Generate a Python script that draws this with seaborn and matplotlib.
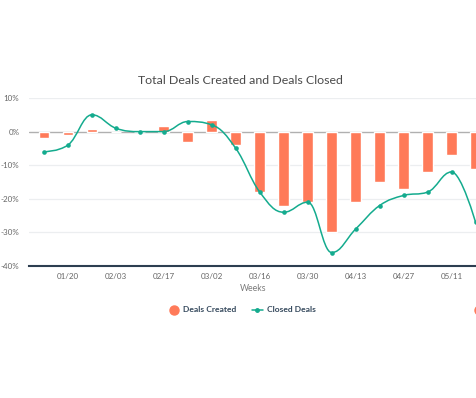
import numpy as np
import pandas as pd
import matplotlib
matplotlib.use("Agg")
import matplotlib.pyplot as plt
from matplotlib.path import Path
from matplotlib.patches import PathPatch
from matplotlib.lines import Line2D
import seaborn as sns

weeks = ["01/13", "01/20", "01/27", "02/03", "02/10", "02/17", "02/24", "03/02",
         "03/09", "03/16", "03/23", "03/30", "04/06", "04/13", "04/20", "04/27",
         "05/04", "05/11", "05/18"]
deals_created = [-2, -1, 0.7, 0, 0, 1.7, -3, 3.5, -4, -18, -22, -21, -30, -21,
                 -15, -17, -12, -7, -11]
closed_deals = [-6, -4, 5, 1, 0, 0, 3, 2, -5, -18, -24, -21, -36, -29, -22,
                -19, -18, -12, -27]
yticks = [10, 0, -10, -20, -30, -40]
ytick_labels = ["10%", "0%", "-10%", "-20%", "-30%", "-40%"]
shown_weeks = ["01/20", "02/03", "02/17", "03/02", "03/16", "03/30", "04/13", "04/27", "05/11"]

ORANGE = "#ff7a59"
TEAL = "#14ab8e"
DARK = "#33475b"

sns.set_theme(style="white")
plt.rcParams["font.family"] = ["Lato", "DejaVu Sans"]
plt.rcParams["axes.unicode_minus"] = False

fig = plt.figure(figsize=(4.77, 3.98), dpi=100)
ax = fig.add_axes([29 / 477, 132 / 398, 1 - 29 / 477, (300 - 132) / 398])

df = pd.DataFrame({"week": weeks, "created": deals_created, "closed": closed_deals})

for v in yticks:
    if v not in (0, -40):
        ax.axhline(v, color="#eceef0", lw=0.9, zorder=0)

sns.barplot(data=df, x="week", y="created", color=ORANGE, width=0.45,
            saturation=1, ax=ax, zorder=2)
ax.axhline(0, color="#b0b0b0", lw=1.0, zorder=1)


def spline_path(xs, ys, smoothing=1.5):
    n = len(xs)
    denom = smoothing + 1
    left = [None] * n
    right = [None] * n
    for i in range(n):
        px, py = xs[i], ys[i]
        if 0 < i < n - 1:
            lx_, ly_ = xs[i - 1], ys[i - 1]
            nx_, ny_ = xs[i + 1], ys[i + 1]
            lcx = (smoothing * px + lx_) / denom
            lcy = (smoothing * py + ly_) / denom
            rcx = (smoothing * px + nx_) / denom
            rcy = (smoothing * py + ny_) / denom
            corr = ((rcy - lcy) * (rcx - px)) / (rcx - lcx) + py - rcy
            lcy += corr
            rcy += corr
            if lcy > ly_ and lcy > py:
                lcy = max(ly_, py); rcy = 2 * py - lcy
            elif lcy < ly_ and lcy < py:
                lcy = min(ly_, py); rcy = 2 * py - lcy
            if rcy > ny_ and rcy > py:
                rcy = max(ny_, py); lcy = 2 * py - rcy
            elif rcy < ny_ and rcy < py:
                rcy = min(ny_, py); lcy = 2 * py - rcy
            left[i] = (lcx, lcy)
            right[i] = (rcx, rcy)
        else:
            left[i] = right[i] = (px, py)
    verts = [(xs[0], ys[0])]
    codes = [Path.MOVETO]
    for i in range(1, n):
        verts += [right[i - 1], left[i], (xs[i], ys[i])]
        codes += [Path.CURVE4] * 3
    return Path(verts, codes)


xpos = np.arange(len(weeks), dtype=float)
ax.add_patch(PathPatch(spline_path(list(xpos), list(map(float, closed_deals))),
                       fill=False, edgecolor=TEAL, lw=1.1, zorder=3))
sns.scatterplot(data=df, x="week", y="closed", color=TEAL, s=11, marker="o",
                linewidth=0, ax=ax, zorder=4)

ax.set_xlim(-0.625, 18.06)
ax.set_ylim(-40, 10)
ax.set_yticks(yticks)
ax.set_yticklabels(ytick_labels)
idx = [weeks.index(w) for w in shown_weeks]
ax.set_xticks(idx)
ax.set_xticklabels(shown_weeks)
ax.tick_params(axis="both", length=0, labelsize=5.8, labelcolor="#666666", pad=5)
ax.tick_params(axis="y", pad=7)
ax.set_ylabel("")
ax.set_xlabel("Weeks", fontsize=6.3, color="#7a7a7a", labelpad=3)
for s in ["top", "right", "left"]:
    ax.spines[s].set_visible(False)
ax.spines["bottom"].set_color("#2d3e50")
ax.spines["bottom"].set_linewidth(1.5)

fig.text(240 / 477, 1 - 80 / 398, "Total Deals Created and Deals Closed",
         ha="center", va="center", fontsize=8.9, color="#4a4a4a")

handles = [
    Line2D([], [], marker="o", color=ORANGE, linestyle="none", markersize=6.5),
    Line2D([], [], marker="o", color=TEAL, lw=1.1, markersize=2.5),
]
leg = fig.legend(handles, ["Deals Created", "Closed Deals"], loc="center",
                 bbox_to_anchor=(242 / 477, 1 - 310 / 398), ncol=2, frameon=False,
                 prop={"weight": "bold", "size": 6.1}, handlelength=1.3,
                 handletextpad=0.5, columnspacing=1.8)
for t in leg.get_texts():
    t.set_color(DARK)

# partially visible next legend item at the right edge (cut off in the reference)
fig.add_artist(Line2D([479 / 477], [1 - 310 / 398], marker="o", color=ORANGE,
                      linestyle="none", markersize=6.5, transform=fig.transFigure,
                      clip_on=False))

fig.savefig("out.png", dpi=100)
